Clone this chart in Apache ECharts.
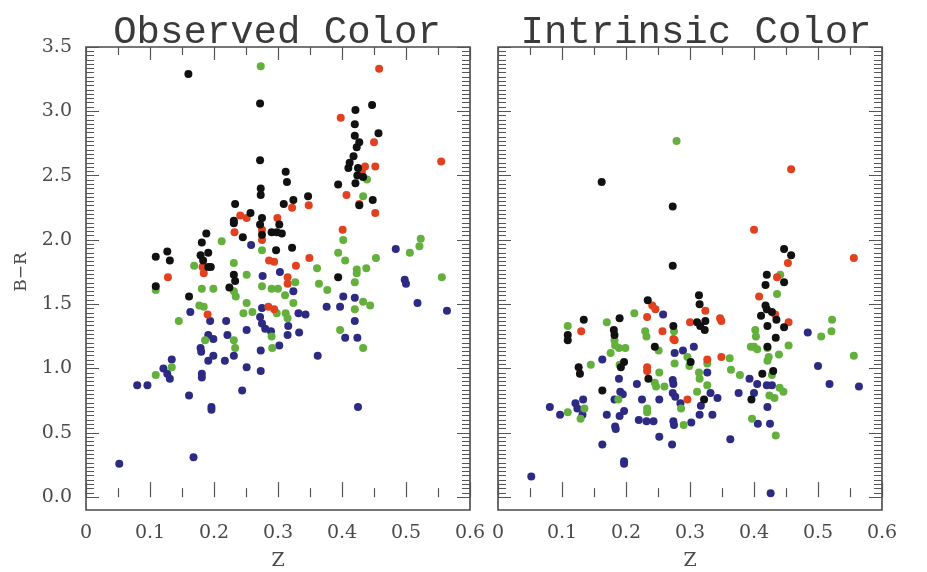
<!DOCTYPE html>
<html>
<head>
<meta charset="utf-8">
<script src="https://cdn.jsdelivr.net/npm/echarts@6/dist/echarts.min.js"></script>
<style>html,body{margin:0;padding:0;background:#fff;}#c{width:927px;height:572px;}</style>
</head>
<body>
<div id="c"></div>
<script>
// ---- data (z, B-R) ----
const xTickLabels = ['0','0.1','0.2','0.3','0.4','0.5','0.6'];
const yTickLabels = ['0.0','0.5','1.0','1.5','2.0','2.5','3.0','3.5'];
const panelTitles = ['Observed Color', 'Intrinsic Color'];

const obsBlack = [[0.160,3.29],[0.272,3.06],[0.447,3.05],[0.421,3.01],[0.420,2.90],[0.420,2.81],[0.457,2.83],[0.427,2.76],[0.423,2.72],[0.418,2.65],[0.272,2.62],[0.412,2.60],[0.410,2.56],[0.425,2.56],[0.424,2.50],[0.433,2.49],[0.394,2.43],[0.421,2.44],[0.312,2.53],[0.314,2.45],[0.273,2.40],[0.273,2.35],[0.448,2.31],[0.427,2.27],[0.347,2.34],[0.324,2.31],[0.309,2.28],[0.233,2.28],[0.257,2.21],[0.231,2.15],[0.231,2.13],[0.275,2.17],[0.272,2.12],[0.302,2.12],[0.188,2.05],[0.298,2.06],[0.290,2.06],[0.306,2.05],[0.245,2.02],[0.275,2.04],[0.181,1.98],[0.297,1.92],[0.322,1.94],[0.127,1.91],[0.109,1.87],[0.131,1.84],[0.191,1.90],[0.179,1.88],[0.183,1.84],[0.191,1.79],[0.195,1.79],[0.231,1.73],[0.394,1.71],[0.233,1.68],[0.109,1.64],[0.161,1.56],[0.224,1.63]];
const obsRed = [[0.458,3.33],[0.398,2.95],[0.450,2.76],[0.436,2.57],[0.452,2.57],[0.431,2.53],[0.555,2.61],[0.407,2.35],[0.427,2.28],[0.348,2.27],[0.322,2.25],[0.452,2.21],[0.241,2.19],[0.251,2.17],[0.299,2.17],[0.275,2.08],[0.232,2.06],[0.401,2.08],[0.275,2.00],[0.286,1.84],[0.294,1.83],[0.349,1.86],[0.328,1.80],[0.182,1.79],[0.184,1.74],[0.128,1.71],[0.315,1.71],[0.315,1.66],[0.190,1.42],[0.285,1.48],[0.294,1.46]];
const obsGreen = [[0.273,3.35],[0.439,2.47],[0.433,2.34],[0.402,2.00],[0.212,1.99],[0.275,1.92],[0.231,1.82],[0.169,1.80],[0.361,1.78],[0.394,1.90],[0.405,1.84],[0.453,1.86],[0.438,1.78],[0.423,1.77],[0.506,1.90],[0.521,1.95],[0.523,2.01],[0.251,1.73],[0.423,1.74],[0.556,1.71],[0.420,1.67],[0.109,1.61],[0.181,1.62],[0.199,1.62],[0.231,1.60],[0.234,1.56],[0.275,1.64],[0.290,1.62],[0.300,1.62],[0.311,1.57],[0.327,1.67],[0.364,1.66],[0.377,1.61],[0.433,1.52],[0.444,1.49],[0.177,1.49],[0.184,1.48],[0.145,1.37],[0.251,1.51],[0.246,1.43],[0.260,1.44],[0.298,1.43],[0.312,1.43],[0.315,1.39],[0.324,1.51],[0.290,1.25],[0.291,1.16],[0.231,1.22],[0.233,1.16],[0.186,1.22],[0.134,1.01],[0.109,0.95],[0.397,1.30],[0.433,1.16],[0.420,1.46]];
const obsBlue = [[0.258,1.96],[0.484,1.93],[0.276,1.72],[0.303,1.75],[0.498,1.69],[0.500,1.66],[0.324,1.60],[0.402,1.56],[0.420,1.55],[0.518,1.51],[0.564,1.45],[0.163,1.44],[0.194,1.37],[0.219,1.37],[0.275,1.47],[0.272,1.40],[0.275,1.35],[0.280,1.31],[0.289,1.29],[0.332,1.43],[0.343,1.42],[0.316,1.33],[0.315,1.26],[0.333,1.28],[0.302,1.18],[0.273,1.14],[0.251,1.30],[0.221,1.26],[0.231,1.10],[0.217,1.06],[0.191,1.26],[0.199,1.23],[0.179,1.16],[0.180,1.13],[0.199,1.10],[0.191,1.06],[0.134,1.07],[0.121,1.00],[0.127,0.96],[0.131,0.92],[0.181,0.96],[0.181,0.93],[0.080,0.87],[0.096,0.87],[0.251,1.01],[0.273,0.98],[0.362,1.10],[0.376,1.48],[0.397,1.48],[0.420,1.37],[0.405,1.24],[0.424,1.24],[0.244,0.83],[0.161,0.79],[0.196,0.70],[0.196,0.68],[0.425,0.70],[0.168,0.31],[0.052,0.26]];

const intBlack = [[0.162,2.45],[0.273,2.26],[0.273,1.80],[0.447,1.93],[0.458,1.88],[0.420,1.73],[0.447,1.67],[0.418,1.65],[0.418,1.49],[0.420,1.46],[0.428,1.44],[0.411,1.41],[0.435,1.38],[0.447,1.32],[0.421,1.33],[0.434,1.24],[0.421,1.17],[0.314,1.57],[0.315,1.50],[0.311,1.36],[0.324,1.37],[0.316,1.33],[0.323,1.30],[0.234,1.53],[0.190,1.39],[0.134,1.38],[0.109,1.26],[0.109,1.22],[0.181,1.30],[0.182,1.26],[0.274,1.33],[0.245,1.17],[0.197,1.05],[0.192,1.01],[0.126,1.01],[0.128,0.96],[0.163,0.83],[0.235,0.92],[0.301,1.05],[0.322,0.76],[0.413,0.96],[0.430,0.98],[0.396,0.76]];
const intRed = [[0.458,2.55],[0.400,2.08],[0.556,1.86],[0.453,1.82],[0.436,1.71],[0.408,1.56],[0.433,1.42],[0.454,1.36],[0.324,1.45],[0.300,1.36],[0.347,1.39],[0.349,1.37],[0.241,1.49],[0.246,1.46],[0.233,1.40],[0.130,1.29],[0.257,1.29],[0.274,1.23],[0.276,1.22],[0.327,1.07],[0.349,1.09],[0.233,1.01],[0.233,0.98],[0.296,0.76]];
const intGreen = [[0.279,2.77],[0.441,1.73],[0.436,1.58],[0.454,1.18],[0.505,1.25],[0.521,1.29],[0.522,1.38],[0.402,1.30],[0.403,1.25],[0.400,1.17],[0.213,1.43],[0.170,1.36],[0.109,1.33],[0.230,1.29],[0.232,1.25],[0.275,1.29],[0.189,1.16],[0.182,1.22],[0.183,1.18],[0.199,1.16],[0.176,1.12],[0.190,1.03],[0.145,1.03],[0.188,0.76],[0.135,0.69],[0.129,0.61],[0.109,0.66],[0.233,0.69],[0.233,0.66],[0.290,0.56],[0.251,1.14],[0.276,1.04],[0.296,1.09],[0.299,1.02],[0.327,1.04],[0.362,1.08],[0.252,0.97],[0.245,0.89],[0.247,0.86],[0.260,0.86],[0.286,0.69],[0.314,0.97],[0.315,0.92],[0.327,0.87],[0.311,0.82],[0.364,0.99],[0.378,0.95],[0.395,1.17],[0.405,1.15],[0.421,1.16],[0.423,1.09],[0.421,1.06],[0.439,1.11],[0.428,0.95],[0.424,0.79],[0.432,0.77],[0.440,0.85],[0.446,0.82],[0.397,0.61],[0.434,0.48],[0.556,1.10]];
const intBlue = [[0.258,1.42],[0.484,1.28],[0.276,1.12],[0.289,1.14],[0.306,1.17],[0.163,1.07],[0.189,0.92],[0.191,0.82],[0.195,0.80],[0.182,0.76],[0.133,0.76],[0.121,0.73],[0.124,0.69],[0.132,0.64],[0.081,0.70],[0.097,0.64],[0.170,0.64],[0.190,0.63],[0.197,0.67],[0.183,0.55],[0.184,0.53],[0.163,0.41],[0.197,0.28],[0.197,0.26],[0.052,0.16],[0.426,0.03],[0.217,0.88],[0.225,0.76],[0.220,0.60],[0.232,0.59],[0.243,0.59],[0.252,0.76],[0.252,0.47],[0.272,0.41],[0.274,0.59],[0.275,0.56],[0.302,0.58],[0.363,0.45],[0.273,0.91],[0.274,0.88],[0.273,0.81],[0.277,0.78],[0.285,0.73],[0.327,0.97],[0.332,0.81],[0.343,0.77],[0.317,0.71],[0.315,0.64],[0.335,0.64],[0.376,0.81],[0.393,0.92],[0.405,0.88],[0.420,0.87],[0.428,0.87],[0.400,0.81],[0.421,0.70],[0.406,0.57],[0.425,0.57],[0.500,1.02],[0.518,0.88],[0.564,0.86]];

// ---- styling / layout ----
const COLORS = { blue:'#2d2a84', green:'#63b03c', red:'#e2411f', black:'#111111' };
const AX = '#555';
const LABEL_FONT = 'DejaVu Serif';
const PANEL_LEFT = [86, 498];
const PANEL_W = 384, TOP = 47, FRAME_H = 463;
const YMIN = -0.1, YMAX = 3.5;
const TICK_H = FRAME_H * (YMAX - 0) / (YMAX - YMIN);   // height for 0..3.5
const XOFF = FRAME_H - TICK_H;

const grids = [], xAxes = [], yAxes = [], series = [];
const panelData = [
  {blue: obsBlue, green: obsGreen, red: obsRed, black: obsBlack},
  {blue: intBlue, green: intGreen, red: intRed, black: intBlack}
];

const xFmt = v => { const i = Math.round(v * 10); return xTickLabels[i] !== undefined ? xTickLabels[i] : ''; };
const yFmt = v => { const i = Math.round(v * 2); return yTickLabels[i] !== undefined ? yTickLabels[i] : ''; };

for (let p = 0; p < 2; p++) {
  const left = PANEL_LEFT[p];
  // frame + data grid
  const gF = grids.length;
  grids.push({ left: left, top: TOP, width: PANEL_W, height: FRAME_H, show: true,
    borderColor: '#4a4a4a', borderWidth: 1.6, backgroundColor: 'transparent', containLabel: false, outerBoundsMode: 'none' });
  // bottom / left tick grid (0..0.6, 0..3.5)
  const gT = grids.length;
  grids.push({ left: left, top: TOP, width: PANEL_W, height: TICK_H, show: false, containLabel: false, outerBoundsMode: 'none' });
  // top / right tick grid, mirrored ranges so zero falls on the top and right edges
  const gM = grids.length;
  grids.push({ left: left, top: TOP, width: PANEL_W, height: TICK_H, show: false, containLabel: false, outerBoundsMode: 'none' });

  const xF = xAxes.length;
  xAxes.push({ type: 'value', gridIndex: gF, min: 0, max: 0.6, show: false });
  xAxes.push({ type: 'value', gridIndex: gT, position: 'bottom', offset: XOFF, min: 0, max: 0.6, interval: 0.1,
    axisLine: { show: false }, splitLine: { show: false },
    axisTick: { inside: true, length: 15, lineStyle: { color: AX, width: 1.2 } },
    minorTick: { show: true, splitNumber: 2, length: 9, lineStyle: { color: AX, width: 1.2 } },
    axisLabel: { formatter: xFmt, margin: 14, fontFamily: LABEL_FONT, fontSize: 19, color: '#4a4a4a' },
    name: 'Z', nameLocation: 'middle', nameGap: 42,
    nameTextStyle: { fontFamily: LABEL_FONT, fontSize: 19, color: '#4a4a4a' } });
  xAxes.push({ type: 'value', gridIndex: gM, position: 'top', min: -0.6, max: 0, interval: 0.1,
    axisLine: { show: false }, splitLine: { show: false }, axisLabel: { show: false },
    axisTick: { inside: true, length: 13, lineStyle: { color: AX, width: 1.2 } },
    minorTick: { show: true, splitNumber: 2, length: 8, lineStyle: { color: AX, width: 1.2 } } });

  const yF = yAxes.length;
  yAxes.push({ type: 'value', gridIndex: gF, min: YMIN, max: YMAX, show: false });
  yAxes.push({ type: 'value', gridIndex: gT, position: 'left', min: 0, max: 3.5, interval: 0.5,
    axisLine: { show: false }, splitLine: { show: false },
    axisTick: { inside: true, length: 13, lineStyle: { color: AX, width: 1 } },
    minorTick: { show: true, splitNumber: 15, length: 8, lineStyle: { color: AX, width: 1 } },
    axisLabel: { show: p === 0, formatter: yFmt, margin: 14, fontFamily: LABEL_FONT, fontSize: 19, color: '#4a4a4a' },
    name: p === 0 ? 'B\u2212R' : '', nameLocation: 'middle', nameRotate: 90, nameGap: 56,
    nameTextStyle: { fontFamily: LABEL_FONT, fontSize: 17, color: '#4a4a4a' } });
  yAxes.push({ type: 'value', gridIndex: gM, position: 'right', min: -3.5, max: 0, interval: 0.5,
    axisLine: { show: false }, splitLine: { show: false }, axisLabel: { show: false },
    axisTick: { inside: true, length: 13, lineStyle: { color: AX, width: 1 } },
    minorTick: { show: true, splitNumber: 15, length: 8, lineStyle: { color: AX, width: 1 } } });

  ['blue', 'green', 'red', 'black'].forEach(c => {
    series.push({ type: 'scatter', xAxisIndex: xF, yAxisIndex: yF, data: panelData[p][c],
      symbol: 'circle', symbolSize: 8, silent: true,
      itemStyle: { color: COLORS[c], opacity: 1 } });
  });
}

const chart = echarts.init(document.getElementById('c'), null, { renderer: 'canvas' });
chart.setOption({
  animation: false,
  backgroundColor: '#fff',
  title: [
    { text: panelTitles[0], left: 272, top: 8, textAlign: 'center',
      textStyle: { fontFamily: 'Liberation Mono', fontSize: 39, fontWeight: 'normal', color: '#3a3a3a' } },
    { text: panelTitles[1], left: 691, top: 8, textAlign: 'center',
      textStyle: { fontFamily: 'Liberation Mono', fontSize: 39, fontWeight: 'normal', color: '#3a3a3a' } }
  ],
  grid: grids,
  xAxis: xAxes,
  yAxis: yAxes,
  series: series
});
</script>
</body>
</html>
